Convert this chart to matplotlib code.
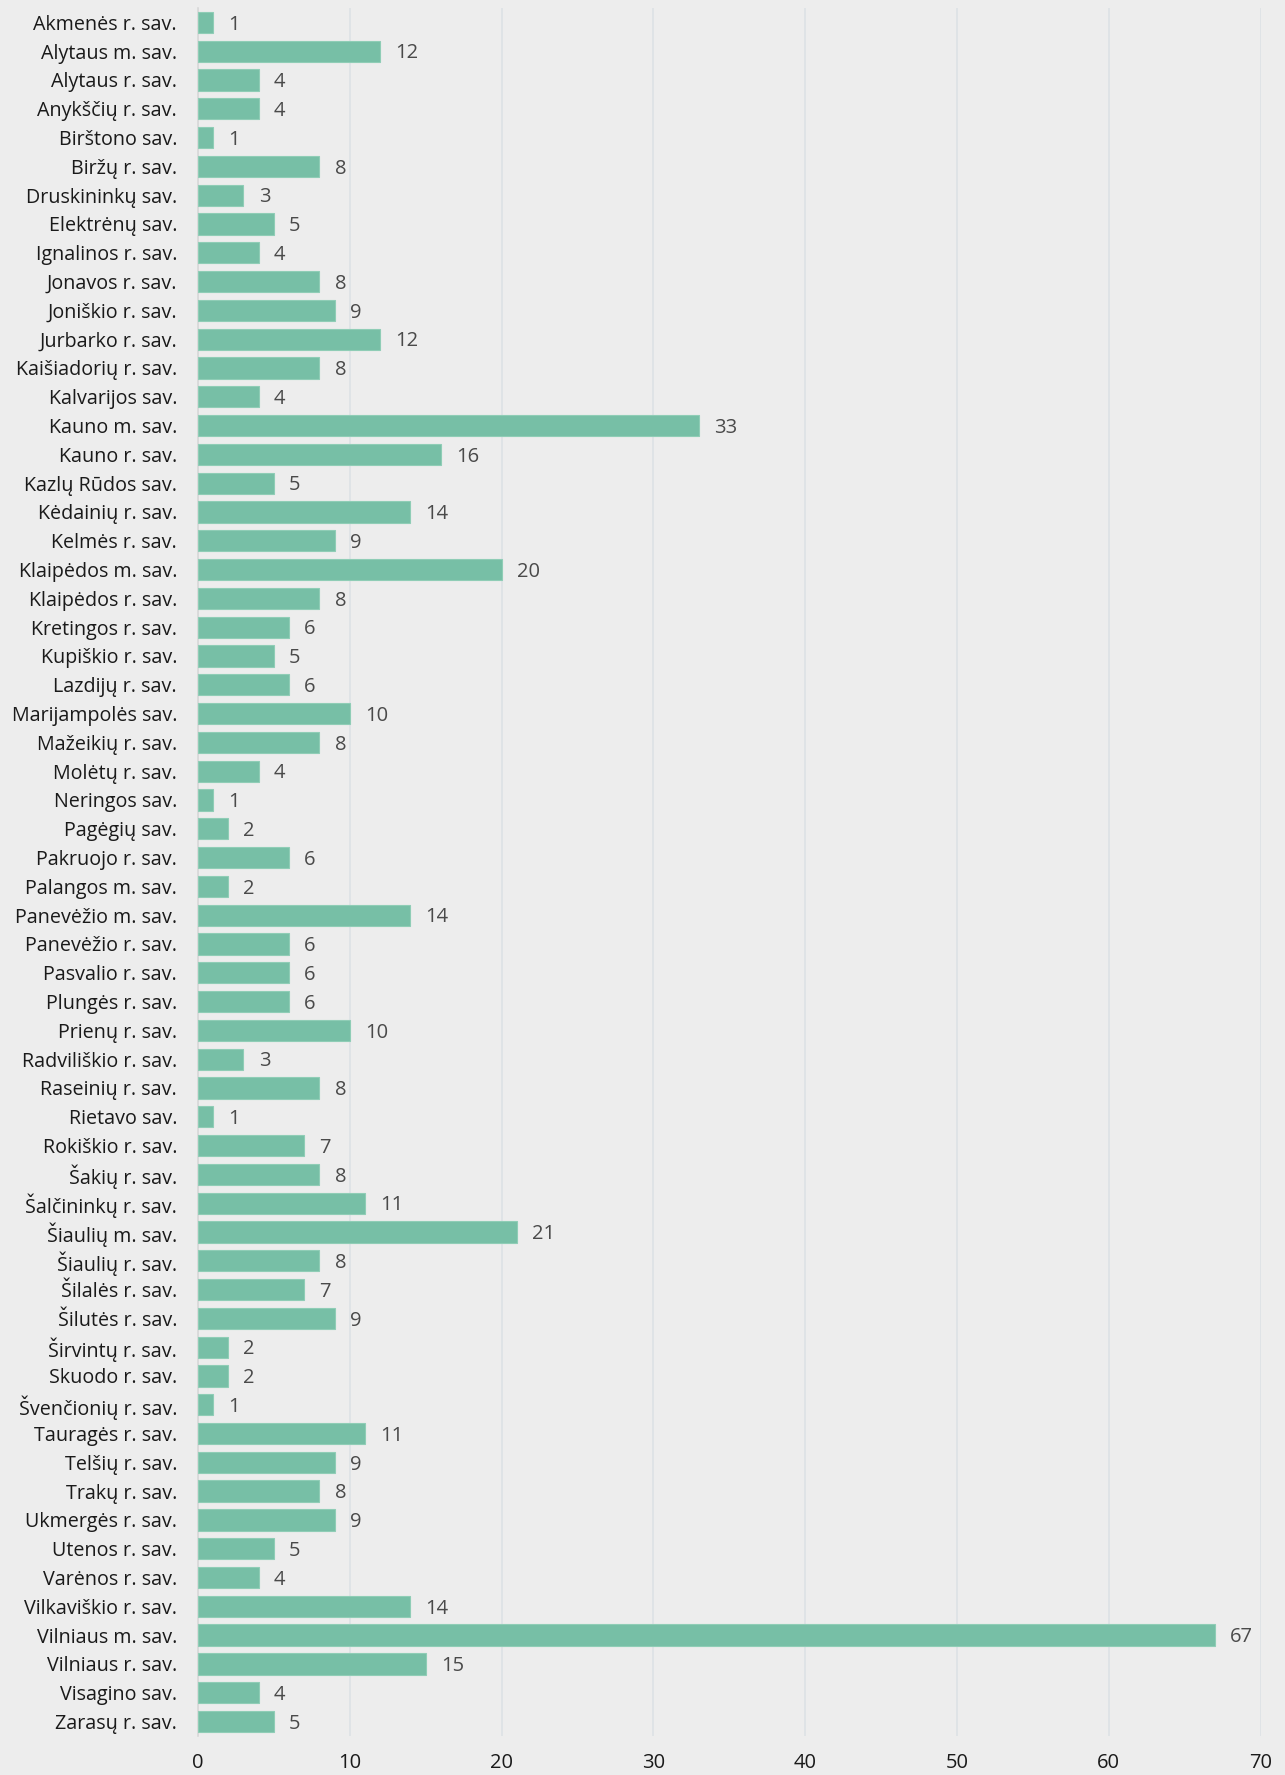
import matplotlib
matplotlib.use("Agg")
import matplotlib.pyplot as plt

plt.rcParams['font.family'] = ['Open Sans', 'DejaVu Sans']

# municipalities (top to bottom) and their counts
names = [
    "Akmenės r. sav.", "Alytaus m. sav.", "Alytaus r. sav.", "Anykščių r. sav.",
    "Birštono sav.", "Biržų r. sav.", "Druskininkų sav.", "Elektrėnų sav.",
    "Ignalinos r. sav.", "Jonavos r. sav.", "Joniškio r. sav.", "Jurbarko r. sav.",
    "Kaišiadorių r. sav.", "Kalvarijos sav.", "Kauno m. sav.", "Kauno r. sav.",
    "Kazlų Rūdos sav.", "Kėdainių r. sav.", "Kelmės r. sav.", "Klaipėdos m. sav.",
    "Klaipėdos r. sav.", "Kretingos r. sav.", "Kupiškio r. sav.", "Lazdijų r. sav.",
    "Marijampolės sav.", "Mažeikių r. sav.", "Molėtų r. sav.", "Neringos sav.",
    "Pagėgių sav.", "Pakruojo r. sav.", "Palangos m. sav.", "Panevėžio m. sav.",
    "Panevėžio r. sav.", "Pasvalio r. sav.", "Plungės r. sav.", "Prienų r. sav.",
    "Radviliškio r. sav.", "Raseinių r. sav.", "Rietavo sav.", "Rokiškio r. sav.",
    "Šakių r. sav.", "Šalčininkų r. sav.", "Šiaulių m. sav.", "Šiaulių r. sav.",
    "Šilalės r. sav.", "Šilutės r. sav.", "Širvintų r. sav.", "Skuodo r. sav.",
    "Švenčionių r. sav.", "Tauragės r. sav.", "Telšių r. sav.", "Trakų r. sav.",
    "Ukmergės r. sav.", "Utenos r. sav.", "Varėnos r. sav.", "Vilkaviškio r. sav.",
    "Vilniaus m. sav.", "Vilniaus r. sav.", "Visagino sav.", "Zarasų r. sav.",
]
counts = [
    1, 12, 4, 4, 1, 8, 3, 5, 4, 8, 9, 12, 8, 4, 33, 16, 5, 14, 9, 20,
    8, 6, 5, 6, 10, 8, 4, 1, 2, 6, 2, 14, 6, 6, 6, 10, 3, 8, 1, 7,
    8, 11, 21, 8, 7, 9, 2, 2, 1, 11, 9, 8, 9, 5, 4, 14, 67, 15, 4, 5,
]
x_ticks = [0, 10, 20, 30, 40, 50, 60, 70]

bg = "#ededed"
bar_color = "#77bfa6"

fig = plt.figure(figsize=(12.85, 17.75), dpi=100, facecolor=bg)
ax = fig.add_axes([0.154, 0.022, 0.827, 0.9735])
ax.set_facecolor(bg)

pos = list(range(len(names)))
ax.barh(pos, counts, height=0.74, color=bar_color, edgecolor="#8fcdb6",
        linewidth=0.8, zorder=3)

for p, v in zip(pos, counts):
    ax.text(v + 1.0, p + 0.08, str(v), va="center", ha="left", fontsize=14.5,
            color="#4a4a4a", zorder=4)

ax.set_ylim(len(names) - 0.5, -0.5)
ax.set_xlim(0, 70)
ax.set_yticks(pos)
ax.set_yticklabels(names, fontsize=14.2, color="#1a1a1a")
ax.set_xticks(x_ticks)
ax.set_xticklabels([str(t) for t in x_ticks], fontsize=14.5, color="#1a1a1a")
ax.tick_params(axis="both", length=0)
ax.tick_params(axis="y", pad=15)
ax.tick_params(axis="x", pad=12)

ax.grid(axis="x", color="#dde1e5", linewidth=1.2, zorder=0)
ax.grid(axis="y", visible=False)
for s in ["top", "right", "bottom"]:
    ax.spines[s].set_visible(False)
ax.spines["left"].set_color("#d8d8d8")
ax.spines["left"].set_linewidth(1.2)

fig.savefig("out.png", dpi=100, facecolor=bg)
